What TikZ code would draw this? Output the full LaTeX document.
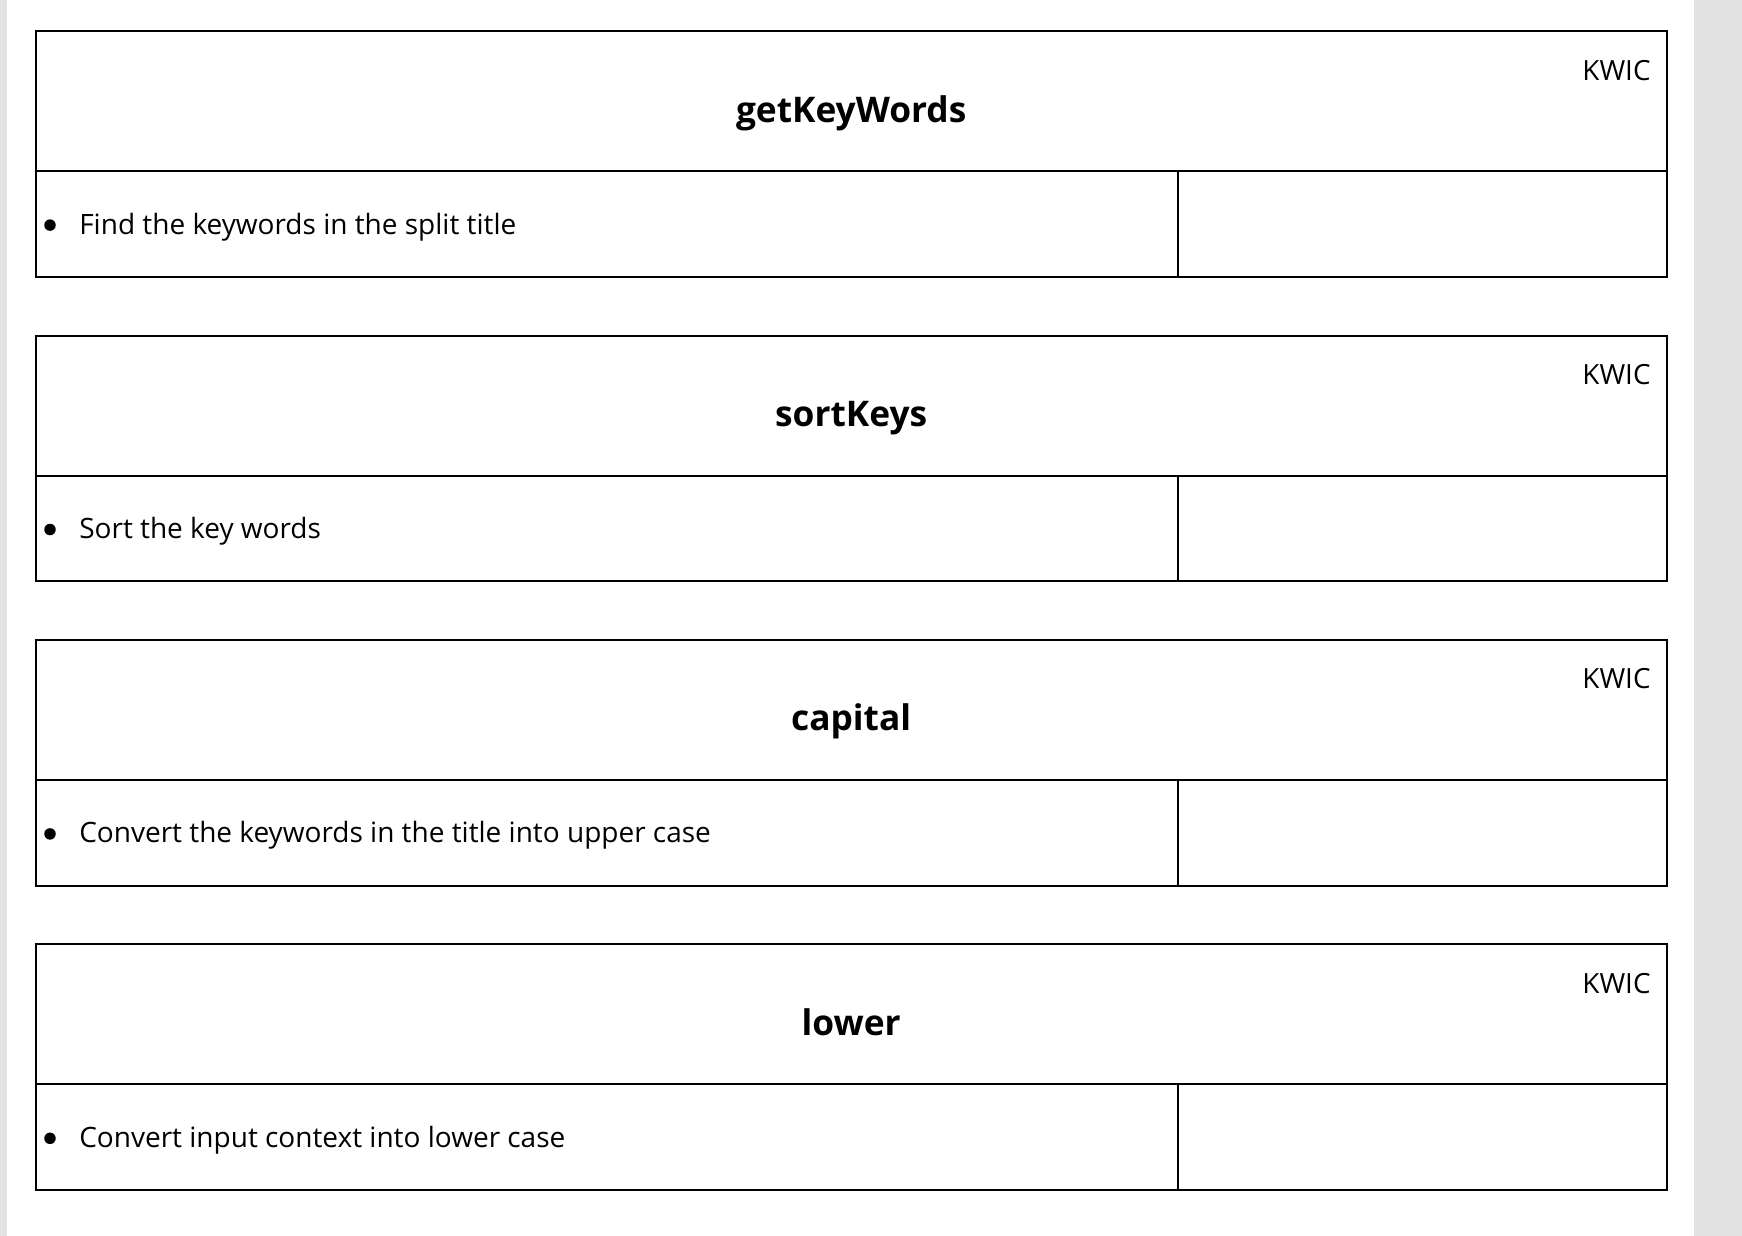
\documentclass[tikz,border=0pt]{standalone}
\usepackage{fontspec}
\setmainfont{Open Sans}
\definecolor{stripgray}{RGB}{226,226,226}
\begin{document}
\begin{tikzpicture}[x=1pt,y=-1pt,
  cell/.style={draw=black, line width=2pt, anchor=north west, inner sep=0pt, outer sep=0pt},
  titletext/.style={font=\fontsize{35.3}{42}\selectfont\bfseries, anchor=base, inner sep=0pt},
  tagtext/.style={font=\fontsize{27.8}{33}\selectfont, anchor=base east, inner sep=0pt},
  itemtext/.style={font=\fontsize{28}{33}\selectfont, anchor=base west, inner sep=0pt},
  dot/.style={circle, fill=black, inner sep=0pt, minimum size=11.5pt}
]
\useasboundingbox (0,0) rectangle (1742,1236);
\fill[white] (0,0) rectangle (1742,1236);
\fill[stripgray] (0,0) rectangle (7,1236);
\fill[stripgray] (1694,0) rectangle (1742,1236);
\foreach \i/\t/\d in {0/getKeyWords/Find the keywords in the split title,
                      1/sortKeys/Sort the key words,
                      2/capital/Convert the keywords in the title into upper case,
                      3/lower/Convert input context into lower case} {
  \pgfmathsetmacro\ytop{31.1+304.4*\i}
  \node[cell, minimum width=1631.1pt, minimum height=140pt] (h\i) at (35.6,\ytop) {};
  \node[cell, minimum width=1142.2pt, minimum height=105.6pt] (l\i) at (h\i.south west) {};
  \node[cell, minimum width=488.9pt, minimum height=105.6pt] (r\i) at (l\i.north east) {};
  \node[titletext] (t\i) at ([yshift=-91pt]h\i.north) {\t};
  \node[tagtext] (k\i) at ([xshift=-16pt,yshift=-49pt]h\i.north east) {KWIC};
  \node[dot] (b\i) at ([xshift=14.4pt,yshift=-54pt]l\i.north west) {};
  \node[itemtext] (d\i) at ([xshift=43.5pt,yshift=-63pt]l\i.north west) {\d};
}
\end{tikzpicture}
\end{document}
